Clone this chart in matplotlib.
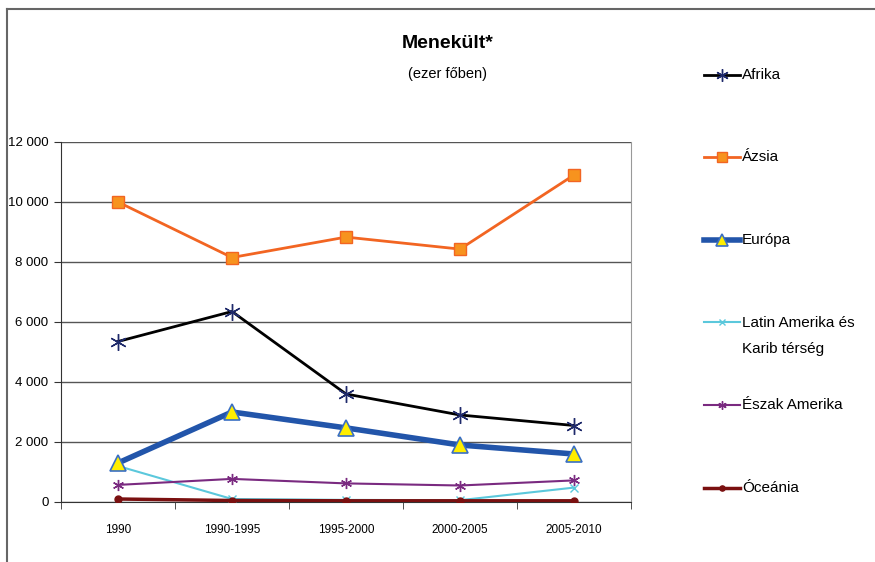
import numpy as np
import matplotlib.pyplot as plt
from matplotlib.lines import Line2D

plt.rcParams['font.family'] = ['Liberation Sans', 'DejaVu Sans']

periods = ['1990', '1990-1995', '1995-2000', '2000-2005', '2005-2010']

afrika = [5350, 6350, 3600, 2900, 2550]
azsia = [10000, 8150, 8830, 8430, 10900]
europa = [1300, 3000, 2470, 1900, 1600]
latin = [1200, 100, 70, 60, 480]
eszak = [570, 770, 620, 550, 720]
oceania = [100, 50, 40, 40, 40]

y_ticks = [0, 2000, 4000, 6000, 8000, 10000, 12000]
y_labels = ['0', '2 000', '4 000', '6 000', '8 000', '10 000', '12 000']


def main():
    fig = plt.figure(figsize=(8.75, 5.62), dpi=100)
    ax = fig.add_axes([61 / 875, 1 - 502 / 562, 570 / 875, 360 / 562])
    x = np.arange(len(periods))

    ax.plot(x, afrika, color='black', lw=2, marker=(6, 2, 0), ms=12,
            mec='#1f2a6b', mew=1, label='Afrika', zorder=4)
    ax.plot(x, azsia, color='#f26522', lw=2, marker='s', ms=9,
            mfc='#f7931e', mec='#f26522', mew=1, label='Ázsia', zorder=4)
    ax.plot(x, europa, color='#2255aa', lw=4, marker='^', ms=12,
            mfc='#ffee00', mec='#3a6fc4', mew=1.2, label='Európa', zorder=5)
    ax.plot(x, latin, color='#5bc8dc', lw=1.5, marker='x', ms=6,
            mec='#5bc8dc', mew=1, label='Latin Amerika és\nKarib térség', zorder=3)
    ax.plot(x, eszak, color='#7a2a80', lw=1.5, marker=(6, 2, 0), ms=8,
            mec='#7a2a80', mew=1, label='Észak Amerika', zorder=3)
    ax.plot(x, oceania, color='#7a1010', lw=2.5, marker='o', ms=5,
            mfc='#7a1010', mec='#7a1010', label='Óceánia', zorder=3)

    ax.set_xlim(-0.5, len(periods) - 0.5)
    ax.set_ylim(0, 12000)
    ax.set_yticks(y_ticks)
    ax.set_yticklabels(y_labels, fontsize=9.5)
    ax.set_xticks(x)
    ax.set_xticklabels(periods, fontsize=8.5)
    ax.set_xticks(np.arange(len(periods) + 1) - 0.5, minor=True)
    ax.tick_params(axis='x', which='major', length=0, pad=16)
    ax.tick_params(axis='x', which='minor', length=5, color='#333333')
    ax.tick_params(axis='y', length=5, color='#333333', pad=4)
    ax.yaxis.grid(True, color='#555555', lw=1)
    ax.set_axisbelow(True)
    ax.spines['top'].set_visible(False)
    ax.spines['right'].set_color('#999999')
    ax.spines['left'].set_color('#333333')
    ax.spines['bottom'].set_color('#333333')

    fig.text(448 / 875, 1 - 44 / 562, 'Menekült*', ha='center', va='center',
             fontsize=14, fontweight='bold')
    fig.text(448 / 875, 1 - 74 / 562, '(ezer főben)', ha='center', va='center',
             fontsize=10.5)

    # jelmagyarázat kézzel elhelyezve
    handles, labels = ax.get_legend_handles_labels()
    ys = [75, 157, 240, 322, 405, 488]
    for h, lab, yy in zip(handles, labels, ys):
        yf = 1 - yy / 562
        fig.add_artist(Line2D([704 / 875, 740 / 875], [yf, yf],
                              transform=fig.transFigure,
                              color=h.get_color(), lw=h.get_linewidth()))
        fig.add_artist(Line2D([722 / 875], [yf], transform=fig.transFigure,
                              marker=h.get_marker(), ms=h.get_markersize() * 0.75,
                              mfc=h.get_markerfacecolor(),
                              mec=h.get_markeredgecolor(),
                              mew=h.get_markeredgewidth(), lw=0))
        if '\n' in lab:
            fig.text(742 / 875, 1 - 336 / 562, lab, ha='left', va='center',
                     fontsize=11, linespacing=2.1)
        else:
            fig.text(742 / 875, yf, lab, ha='left', va='center', fontsize=11)

    # keret
    fig.add_artist(Line2D([7 / 875, 1], [1 - 9 / 562, 1 - 9 / 562],
                          transform=fig.transFigure, color='#666666', lw=1.5))
    fig.add_artist(Line2D([7 / 875, 7 / 875], [0, 1 - 9 / 562],
                          transform=fig.transFigure, color='#666666', lw=1.5))

    plt.savefig('out.png', dpi=100)


if __name__ == '__main__':
    main()
